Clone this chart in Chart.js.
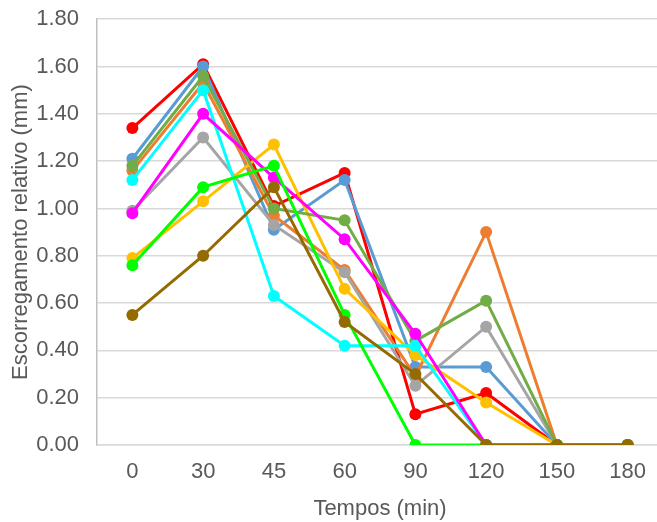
<!DOCTYPE html>
<html>
<head>
<meta charset="utf-8">
<script src="https://cdn.jsdelivr.net/npm/chart.js@4"></script>
<style>
  html, body { margin: 0; padding: 0; background: #fff; overflow: hidden; }
  canvas { display: block; margin-top: -12px; }
</style>
</head>
<body>
<canvas id="myChart" width="669" height="536"></canvas>
<script>
  const labels = ['0', '30', '45', '60', '90', '120', '150', '180'];

  const red     = [1.34, 1.61, 1.01, 1.15, 0.13, 0.22, 0, 0];
  const blue    = [1.21, 1.60, 0.91, 1.12, 0.33, 0.33, 0, 0];
  const orange  = [1.16, 1.53, 0.97, 0.74, 0.29, 0.90, 0, 0];
  const gray    = [0.99, 1.30, 0.93, 0.73, 0.25, 0.50, 0, 0];
  const yellow  = [0.79, 1.03, 1.27, 0.66, 0.38, 0.18, 0, 0];
  const green   = [1.18, 1.56, 1.00, 0.95, 0.44, 0.61, 0, 0];
  const cyan    = [1.12, 1.50, 0.63, 0.42, 0.42, 0, 0, 0];
  const magenta = [0.98, 1.40, 1.13, 0.87, 0.47, 0, 0, 0];
  const lime    = [0.76, 1.09, 1.18, 0.55, 0, 0, 0, 0];
  const brown   = [0.55, 0.80, 1.09, 0.52, 0.30, 0, 0, 0];

  const series = [
    [red, '#FF0000'],
    [blue, '#5B9BD5'],
    [orange, '#ED7D31'],
    [gray, '#A5A5A5'],
    [yellow, '#FFC000'],
    [green, '#70AD47'],
    [cyan, '#00FFFF'],
    [magenta, '#FF00FF'],
    [lime, '#00FF00'],
    [brown, '#946B00'],
  ];

  const font = "'Liberation Sans', Arial, sans-serif";

  const data = {
    labels: labels,
    datasets: series.map(function (s, i) {
      return {
        label: '',
        data: s[0],
        borderColor: s[1],
        backgroundColor: s[1],
        borderWidth: 3,
        pointRadius: 6,
        pointHoverRadius: 6,
        pointBorderWidth: 0,
        tension: 0,
        order: series.length - i
      };
    })
  };

  const config = {
    type: 'line',
    data,
    options: {
      responsive: false,
      animation: false,
      layout: { padding: { top: 0, right: 2, bottom: 0, left: 0 } },
      plugins: {
        legend: { display: false },
        tooltip: { enabled: false }
      },
      scales: {
        x: {
          offset: true,
          afterFit: function (scale) { scale.height = 79; },
          grid: { display: false, drawTicks: false },
          border: { color: '#D9D9D9', width: 1.5 },
          ticks: { color: '#595959', font: { family: font, size: 22 }, padding: 14 },
          title: {
            display: true,
            text: 'Tempos (min)',
            color: '#595959',
            font: { family: font, size: 22 },
            padding: { top: 8, bottom: 2 }
          }
        },
        y: {
          min: 0,
          max: 1.8,
          afterFit: function (scale) { scale.width = 97; },
          grid: { color: '#D9D9D9', lineWidth: 1.5, drawTicks: false },
          border: { color: '#BFBFBF', width: 1.5 },
          ticks: {
            stepSize: 0.2,
            color: '#595959',
            font: { family: font, size: 22 },
            padding: 18,
            callback: function (v) { return v.toFixed(2); }
          },
          title: {
            display: true,
            text: 'Escorregamento relativo (mm)',
            color: '#595959',
            font: { family: font, size: 22 },
            padding: { top: 8, bottom: 0 }
          }
        }
      }
    }
  };

  var myChart = new Chart(document.getElementById('myChart'), config);
</script>
</body>
</html>
